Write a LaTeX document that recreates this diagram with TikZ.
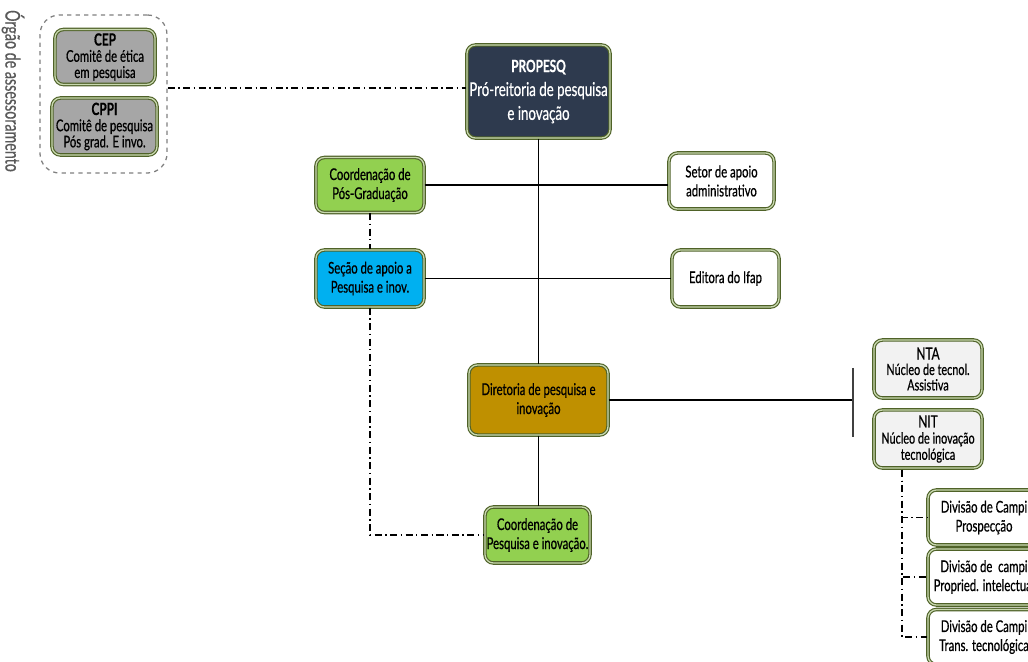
\documentclass[tikz,border=0pt]{standalone}
\usepackage{fontspec}
\newfontfamily\cond[FakeStretch=0.7, FakeBold=0.6]{Lato}
\usetikzlibrary{positioning}

\definecolor{bordergreen}{HTML}{4F6228}
\definecolor{borderlight}{HTML}{C9D9B0}
\definecolor{navy}{HTML}{2E3A4E}
\definecolor{leafgreen}{HTML}{92D050}
\definecolor{skyblue}{HTML}{00B0F0}
\definecolor{gold}{HTML}{BF9000}
\definecolor{boxgray}{HTML}{A6A6A6}
\definecolor{palegray}{HTML}{F2F2F2}

\tikzset{
  orgbox/.style={rectangle, rounded corners=6pt, draw=bordergreen, double=borderlight,
    double distance=0.9pt, line width=0.8pt, align=center, inner sep=1pt,
    font=\cond\fontsize{11.5}{13.5}\selectfont},
  link/.style={line width=0.9pt},
  dashlink/.style={line width=0.9pt, dash pattern=on 5pt off 2.5pt on 1pt off 2.5pt},
}

\begin{document}
\begin{tikzpicture}[x=0.025cm, y=-0.025cm]
  \useasboundingbox (0,0) rectangle (1028,662);
  \clip (0,0) rectangle (1028,662);

  % advisory group
  \node[draw=gray, dashed, line width=0.9pt, rounded corners=14pt,
    minimum width=3.175cm, minimum height=3.95cm] (grp) at (103.5,94) {};
  \node[rotate=-90, font=\cond\fontsize{14.5}{16}\selectfont, text=black!65] (grplabel) at (13,91) {Órgão de assessoramento};
  \node[orgbox, fill=boxgray, minimum width=2.5cm, minimum height=1.375cm,
    font=\cond\fontsize{11.5}{11.5}\selectfont] (cep) at (105,57)
    {\textbf{\large CEP}\\Comitê de ética\\em pesquisa};
  \node[orgbox, fill=boxgray, minimum width=2.625cm, minimum height=1.425cm,
    font=\cond\fontsize{11.5}{11.5}\selectfont] (cppi) at (104.5,126.5)
    {\textbf{\large CPPI}\\Comitê de pesquisa\\Pós grad. E invo.};

  % main boxes
  \node[orgbox, fill=navy, text=white, minimum width=3.575cm, minimum height=2.325cm,
    font=\cond\fontsize{13.5}{17}\selectfont] (propesq) at (538.5,91.5)
    {\textbf{\large PROPESQ}\\Pró-reitoria de pesquisa\\e inovação};
  \node[orgbox, fill=leafgreen, minimum width=2.7cm, minimum height=1.375cm] (coordpos) at (370,185)
    {Coordenação de\\Pós-Graduação};
  \node[orgbox, fill=white, minimum width=2.625cm, minimum height=1.4cm] (setor) at (721.5,181)
    {Setor de apoio\\administrativo};
  \node[orgbox, fill=skyblue, minimum width=2.7cm, minimum height=1.425cm] (secao) at (370,278.5)
    {Seção de apoio a\\Pesquisa e inov.};
  \node[orgbox, fill=white, minimum width=2.675cm, minimum height=1.425cm] (editora) at (725.5,278.5)
    {Editora do Ifap};
  \node[orgbox, fill=gold, minimum width=3.475cm, minimum height=1.75cm] (diretoria) at (538.5,400)
    {Diretoria de pesquisa e\\inovação};
  \node[orgbox, fill=leafgreen, minimum width=2.625cm, minimum height=1.4cm] (coordpesq) at (537.5,535)
    {Coordenação de\\Pesquisa e inovação.};

  % right side
  \node[orgbox, fill=palegray, minimum width=2.7cm, minimum height=1.45cm,
    font=\cond\fontsize{11}{11}\selectfont] (nta) at (928,369)
    {{\large NTA}\\Núcleo de tecnol.\\Assistiva};
  \node[orgbox, fill=palegray, minimum width=2.7cm, minimum height=1.45cm,
    font=\cond\fontsize{11}{11.5}\selectfont] (nit) at (928,439)
    {{\large NIT}\\Núcleo de inovação\\tecnológica};
  \node[orgbox, fill=white, minimum width=2.8cm, minimum height=1.375cm] (div1) at (984,517.5)
    {Divisão de Campi\\Prospecção};
  \node[orgbox, fill=white, minimum width=2.8cm, minimum height=1.4cm] (div2) at (984,577)
    {Divisão de\ \ campi\\Propried. intelectual};
  \node[orgbox, fill=white, minimum width=2.8cm, minimum height=1.375cm] (div3) at (984,637)
    {Divisão de Campi\\Trans. tecnológica};

  % connectors
  \draw[dashlink] (grp.east |- 0,88) -- (propesq.west |- 0,88);
  \draw[link] (propesq.south) -- (diretoria.north);
  \draw[link] (coordpos.east) -- (setor.west |- coordpos.east);
  \draw[link] (secao.east) -- (editora.west);
  \draw[link] (diretoria.south) -- (coordpesq.north -| diretoria.south);
  \draw[dashlink] (coordpos.south) -- (secao.north);
  \draw[dashlink] (secao.south) |- (coordpesq.west);
  \coordinate (bar) at (853,400);
  \draw[link] (diretoria.east) -- (bar);
  \draw[line width=1.4pt, black!75] (bar) ++(0,-32) -- ++(0,69);
  \coordinate (nitdrop) at (902,470);
  \draw[dashlink] (nitdrop) |- (div1.west);
  \draw[dashlink] (nitdrop) |- (div2.west);
  \draw[dashlink] (nitdrop) |- (div3.west);
\end{tikzpicture}
\end{document}
